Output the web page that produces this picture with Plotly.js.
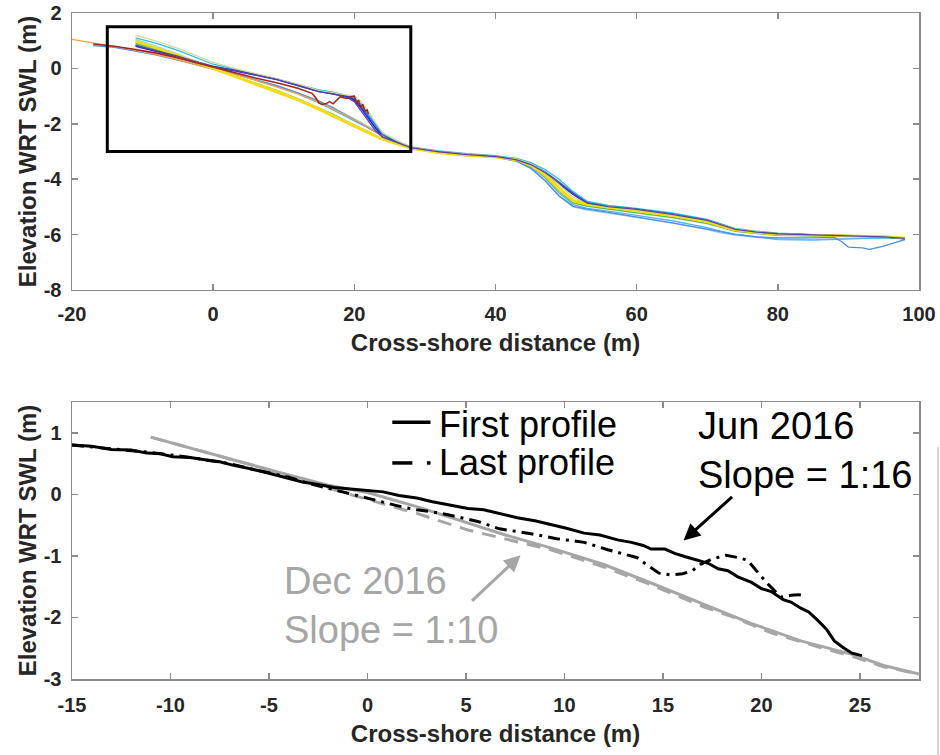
<!DOCTYPE html>
<html><head><meta charset="utf-8">
<script src="https://cdn.plot.ly/plotly-3.0.1.min.js"></script>
<style>html,body{margin:0;padding:0;background:#fff}</style>
</head><body><div id="chart" style="width:940px;height:755px"></div>
<script>
// ---------- TOP PANEL: all surveyed profiles ----------
const xTop = [-11,-8,-5,-2,0,3,6,9,12,15,17,19,20,21,22,23,24,26,28,32,36,40,43,45,47,49,51,53,56,60,65,70,72,74,77,80,85,90,95,98];
const profA = [0.80,0.62,0.42,0.18,0.05,-0.08,-0.24,-0.40,-0.62,-0.83,-0.92,-1.02,-1.15,-1.45,-1.80,-2.15,-2.45,-2.68,-2.86,-3.02,-3.12,-3.18,-3.30,-3.48,-3.78,-4.15,-4.55,-4.88,-5.00,-5.10,-5.28,-5.50,-5.68,-5.82,-5.92,-5.98,-6.02,-6.05,-6.08,-6.15];
const profB = [0.85,0.66,0.45,0.22,0.08,-0.06,-0.22,-0.38,-0.60,-0.82,-0.90,-1.00,-1.10,-1.38,-1.72,-2.08,-2.40,-2.65,-2.85,-3.00,-3.10,-3.17,-3.28,-3.45,-3.72,-4.10,-4.50,-4.85,-4.98,-5.08,-5.25,-5.48,-5.65,-5.80,-5.90,-5.97,-6.00,-6.04,-6.07,-6.14];
const profC = [1.10,0.90,0.65,0.35,0.15,-0.03,-0.20,-0.38,-0.58,-0.78,-0.86,-0.97,-1.05,-1.30,-1.65,-2.02,-2.36,-2.62,-2.83,-2.98,-3.08,-3.15,-3.25,-3.40,-3.65,-4.00,-4.45,-4.80,-4.95,-5.05,-5.22,-5.45,-5.62,-5.78,-5.88,-5.95,-6.00,-6.03,-6.06,-6.12];
const profE = [0.82,0.64,0.44,0.20,0.06,-0.07,-0.23,-0.40,-0.62,-0.84,-0.92,-1.05,-1.20,-1.55,-1.92,-2.25,-2.48,-2.68,-2.86,-3.01,-3.11,-3.18,-3.30,-3.47,-3.76,-4.12,-4.52,-4.86,-4.99,-5.09,-5.27,-5.49,-5.66,-5.81,-5.91,-5.97,-6.01,-6.05,-6.08,-6.14];
const profF = [0.95,0.72,0.48,0.20,0.02,-0.20,-0.42,-0.65,-0.92,-1.25,-1.50,-1.78,-1.90,-2.02,-2.15,-2.28,-2.42,-2.65,-2.85,-3.02,-3.12,-3.18,-3.32,-3.55,-3.95,-4.50,-4.92,-5.05,-5.15,-5.30,-5.50,-5.75,-5.88,-5.98,-6.08,-6.18,-6.20,-6.15,-6.12,-6.15];
const profH = [1.00,0.75,0.48,0.18,0.00,-0.28,-0.55,-0.82,-1.12,-1.45,-1.70,-1.95,-2.08,-2.20,-2.32,-2.43,-2.55,-2.72,-2.88,-3.05,-3.15,-3.20,-3.30,-3.48,-3.80,-4.30,-4.75,-4.90,-5.00,-5.12,-5.30,-5.52,-5.68,-5.82,-5.92,-5.98,-6.02,-6.04,-6.06,-6.12];
const profI = [0.95,0.72,0.46,0.16,-0.02,-0.30,-0.58,-0.86,-1.16,-1.50,-1.75,-2.00,-2.12,-2.24,-2.35,-2.46,-2.58,-2.74,-2.90,-3.06,-3.15,-3.21,-3.32,-3.52,-3.88,-4.40,-4.80,-4.93,-5.03,-5.15,-5.33,-5.55,-5.72,-5.85,-5.94,-6.00,-6.03,-6.05,-6.07,-6.13];
const profJ = [0.90,0.68,0.44,0.15,-0.02,-0.27,-0.52,-0.80,-1.10,-1.42,-1.66,-1.92,-2.05,-2.18,-2.30,-2.42,-2.55,-2.72,-2.88,-3.04,-3.14,-3.20,-3.32,-3.52,-3.90,-4.42,-4.85,-4.98,-5.08,-5.20,-5.38,-5.60,-5.75,-5.88,-5.96,-6.02,-6.05,-6.06,-6.08,-6.14];
const profK = [1.20,0.98,0.72,0.42,0.22,0.00,-0.18,-0.36,-0.56,-0.80,-0.88,-0.96,-1.00,-1.20,-1.55,-1.95,-2.32,-2.60,-2.84,-3.00,-3.10,-3.17,-3.28,-3.45,-3.75,-4.20,-4.65,-4.90,-5.00,-5.10,-5.28,-5.50,-5.65,-5.80,-5.90,-5.97,-6.01,-6.04,-6.06,-6.12];
const profM = [1.05,0.80,0.52,0.22,0.05,-0.18,-0.40,-0.62,-0.88,-1.18,-1.42,-1.68,-1.82,-1.96,-2.10,-2.24,-2.38,-2.62,-2.84,-3.02,-3.12,-3.20,-3.36,-3.62,-4.05,-4.62,-5.00,-5.12,-5.22,-5.38,-5.58,-5.82,-5.95,-6.02,-6.10,-6.15,-6.18,-6.14,-6.12,-6.14];
// jagged last June profile (dark red)
const xRed = [-17,-14,-11,-8,-5,-2,0,3,6,9,12,14,14.5,15,15.5,16,16.5,17,17.5,18,18.5,19,19.5,20,20.3,20.6,20.9,21.2,21.5,21.8,22];
const yRed = [0.88,0.80,0.68,0.55,0.38,0.18,0.05,-0.15,-0.35,-0.52,-0.72,-0.90,-1.05,-1.25,-1.30,-1.27,-1.20,-1.28,-1.15,-1.02,-1.06,-1.08,-1.02,-1.00,-1.25,-1.15,-1.40,-1.30,-1.55,-1.50,-1.65];
// profile with offshore trough
const xG = [-17,-14,-11,-8,-5,-2,0,3,6,9,12,15,17,19,21,23,25,28,32,36,40,43,45,47,49,51,53,56,60,65,70,74,77,80,85,88,89,90,92,93,95,97,98];
const yG = [0.82,0.76,0.62,0.48,0.30,0.10,-0.02,-0.20,-0.40,-0.62,-0.88,-1.18,-1.42,-1.70,-2.00,-2.30,-2.58,-2.85,-3.02,-3.12,-3.20,-3.35,-3.60,-4.05,-4.60,-4.98,-5.08,-5.20,-5.38,-5.58,-5.80,-6.00,-6.08,-6.12,-6.12,-6.10,-6.25,-6.45,-6.48,-6.53,-6.42,-6.25,-6.18];
// landward-extended profile (orange)
const xOr = [-20,-17,-14,-11,-8,-5,-2,0,3,6,9,12,15,17,19,21,23,25,28,32,36,40];
const yOr = [1.05,0.92,0.80,0.66,0.50,0.32,0.10,-0.02,-0.22,-0.42,-0.66,-0.92,-1.22,-1.46,-1.72,-1.98,-2.30,-2.60,-2.86,-3.02,-3.12,-3.18];

// ---------- BOTTOM PANEL: zoom of foreshore ----------
const xJunFirst = [-15,-14,-13,-12,-11.2,-10.5,-9.9,-9,-8,-7.5,-6.8,-6,-5.1,-4.5,-4,-3.3,-2.5,-1.7,-1,0,0.8,1.6,2.5,3.3,4.2,5.1,5.9,6.8,7.6,8.5,9.3,10.1,11,11.8,12.7,13.4,14,14.4,15.1,15.6,16.1,16.8,17.3,17.8,18.3,18.8,19.5,20,20.5,21.1,21.5,22,22.4,22.9,23.3,23.7,24.2,24.6,25.1];
const yJunFirst = [0.80,0.78,0.73,0.72,0.67,0.66,0.61,0.60,0.55,0.53,0.47,0.42,0.35,0.30,0.26,0.20,0.16,0.11,0.09,0.06,0.04,-0.02,-0.06,-0.12,-0.17,-0.23,-0.25,-0.32,-0.38,-0.43,-0.49,-0.55,-0.63,-0.66,-0.74,-0.78,-0.83,-0.89,-0.89,-0.96,-1.01,-1.07,-1.12,-1.21,-1.24,-1.34,-1.43,-1.53,-1.58,-1.71,-1.75,-1.85,-1.91,-2.06,-2.19,-2.38,-2.50,-2.58,-2.62];
const xJunLast = [-15,-13,-11,-9,-7,-6,-5,-4,-3,-2,-1,0,1,1.7,2.5,3.4,4.2,5.6,6.7,8.3,9.6,11.0,12.2,13.7,14.2,14.8,15.4,16.0,16.5,16.9,17.5,18.2,18.7,19.3,19.9,20.4,21.0,21.5,21.9,22.2];
const yJunLast = [0.80,0.74,0.68,0.60,0.50,0.42,0.35,0.28,0.18,0.10,0.02,-0.06,-0.14,-0.20,-0.25,-0.29,-0.34,-0.44,-0.56,-0.64,-0.72,-0.78,-0.90,-1.03,-1.15,-1.28,-1.31,-1.29,-1.24,-1.14,-1.05,-0.99,-1.02,-1.07,-1.30,-1.48,-1.67,-1.64,-1.63,-1.66];
const xDecFirst = [-11,-8,-5,-2,0,2.5,5.1,7,9.3,12,14.4,17,19.5,22,24.6,26.2,28];
const yDecFirst = [0.93,0.66,0.40,0.15,0.03,-0.20,-0.47,-0.66,-0.87,-1.14,-1.44,-1.78,-2.10,-2.38,-2.60,-2.78,-2.92];
const xDecLast = [-11,-8,-5,-2,0,2.5,5.1,5.9,7,9.3,12,14.4,17,18.6,20.5,22.9,24.6,26.2,28];
const yDecLast = [0.93,0.66,0.40,0.10,-0.08,-0.31,-0.58,-0.64,-0.72,-0.90,-1.18,-1.47,-1.82,-2.00,-2.25,-2.48,-2.63,-2.80,-2.92];

// ---------- ticks and labels ----------
const xTopTicks = [-20, 0, 20, 40, 60, 80, 100];
const yTopTicks = [-8, -6, -4, -2, 0, 2];
const xBotTicks = [-15, -10, -5, 0, 5, 10, 15, 20, 25];
const yBotTicks = [-3, -2, -1, 0, 1];
const xTopLabels = ['-20', '0', '20', '40', '60', '80', '100'];
const yTopLabels = ['-8', '-6', '-4', '-2', '0', '2'];
const xBotLabels = ['-15', '-10', '-5', '0', '5', '10', '15', '20', '25'];
const yBotLabels = ['-3', '-2', '-1', '0', '1'];
const zoomX = [-15, 28];
const zoomY = [-3, 1.5];
const legendLabels = ['First profile', 'Last profile'];
const junLabel = 'Jun 2016<br>Slope = 1:16';
const decLabel = 'Dec 2016<br>Slope = 1:10';

const FONT = 'Liberation Sans, Arial, sans-serif';
const GRAY = '#a6a6a6';

function topLine(x, y, color, w) {
  return {x: x, y: y, xaxis: 'x', yaxis: 'y', type: 'scatter', mode: 'lines',
          line: {color: color, width: w || 1.3}, showlegend: false, hoverinfo: 'skip'};
}
const traces = [
  topLine(xTop, profM, '#8fd4f5'),
  topLine(xTop, profF, '#5ab0f0'),
  topLine(xG, yG, '#4a90e0'),
  topLine(xTop, profC, '#22c0f0'),
  topLine(xTop, profB, '#2f6fe0'),
  topLine(xTop, profA, '#1a2fd0', 1.6),
  topLine(xOr, yOr, '#f5a040'),
  topLine(xTop, profK, '#d8d890'),
  topLine(xTop, profJ, '#5fbf4f', 1.5),
  topLine(xTop, profI, '#ffd21a', 1.6),
  topLine(xTop, profH, '#f0e010', 2.2),
  topLine(xTop, profE, '#5a3fb0'),
  topLine(xRed, yRed, '#a8231f', 1.6),
  {x: xDecFirst, y: yDecFirst, xaxis: 'x2', yaxis: 'y2', mode: 'lines', name: 'Dec first',
   line: {color: GRAY, width: 3}, showlegend: false},
  {x: xDecLast, y: yDecLast, xaxis: 'x2', yaxis: 'y2', mode: 'lines', name: 'Dec last',
   line: {color: GRAY, width: 3, dash: '14px,9px'}, showlegend: false},
  {x: xJunLast, y: yJunLast, xaxis: 'x2', yaxis: 'y2', mode: 'lines', name: legendLabels[1],
   line: {color: '#000', width: 3, dash: '12px,6px,3px,6px'}, showlegend: false},
  {x: xJunFirst, y: yJunFirst, xaxis: 'x2', yaxis: 'y2', mode: 'lines', name: legendLabels[0],
   line: {color: '#000', width: 3}, showlegend: false}
];

const tickFont = {family: FONT, size: 20, color: '#262626', weight: 'bold'};
const titleFont = {family: FONT, size: 24, color: '#262626', weight: 'bold'};
function axis(extra) {
  return Object.assign({
    showline: true, linecolor: '#8c8c8c', linewidth: 1.5, mirror: 'ticks',
    ticks: 'inside', ticklen: 6, tickwidth: 1.5, tickcolor: '#8c8c8c',
    showgrid: false, zeroline: false, tickfont: tickFont, automargin: false,
    tickmode: 'array'
  }, extra);
}

const layout = {
  width: 940, height: 755,
  margin: {l: 72, r: 21, t: 13, b: 76},
  paper_bgcolor: '#fff', plot_bgcolor: '#fff',
  xaxis: axis({domain: [0, 1], anchor: 'y', range: [-20, 100], tickvals: xTopTicks, ticktext: xTopLabels,
    ticklabelstandoff: 6,
    title: {text: 'Cross-shore distance (m)', font: titleFont, standoff: 9}}),
  yaxis: axis({domain: [0.5841, 1], anchor: 'x', range: [-8, 2], tickvals: yTopTicks, ticktext: yTopLabels,
    ticklabelstandoff: 5,
    title: {text: 'Elevation WRT SWL (m)', font: titleFont, standoff: 0}}),
  xaxis2: axis({domain: [0, 1], anchor: 'y2', range: zoomX, tickvals: xBotTicks, ticktext: xBotLabels,
    ticklabelstandoff: 7,
    title: {text: 'Cross-shore distance (m)', font: titleFont, standoff: 10}}),
  yaxis2: axis({domain: [0, 0.4159], anchor: 'x2', range: zoomY, tickvals: yBotTicks, ticktext: yBotLabels,
    ticklabelstandoff: 5,
    title: {text: 'Elevation WRT SWL (m)', font: titleFont, standoff: 0}}),
  shapes: [
    {type: 'rect', xref: 'x', yref: 'y', x0: zoomX[0], x1: zoomX[1], y0: zoomY[0], y1: zoomY[1],
     line: {color: '#000', width: 3}},
    {type: 'line', xref: 'x2', yref: 'y2', x0: 1.26, x1: 3.2, y0: 1.17, y1: 1.17, line: {color: '#000', width: 3.5}},
    {type: 'line', xref: 'x2', yref: 'y2', x0: 1.26, x1: 2.28, y0: 0.51, y1: 0.51, line: {color: '#000', width: 3.5}},
    {type: 'line', xref: 'x2', yref: 'y2', x0: 3.02, x1: 3.2, y0: 0.51, y1: 0.51, line: {color: '#000', width: 3.5}},
    {type: 'line', xref: 'paper', yref: 'paper', x0: 1.0224, x1: 1.0224, y0: 0.348, y1: -0.114, line: {color: '#d4d4d4', width: 2}}
  ],
  annotations: [
    {xref: 'x2', yref: 'y2', x: 3.55, y: 1.13, text: legendLabels[0], showarrow: false, xanchor: 'left', yanchor: 'middle',
     font: {family: FONT, size: 36, color: '#000'}},
    {xref: 'x2', yref: 'y2', x: 3.55, y: 0.51, text: legendLabels[1], showarrow: false, xanchor: 'left', yanchor: 'middle',
     font: {family: FONT, size: 36, color: '#000'}},
    {xref: 'x2', yref: 'y2', x: 16.66, y: 0.71, text: junLabel, showarrow: false, xanchor: 'left', yanchor: 'middle', align: 'left',
     font: {family: FONT, size: 38, color: '#000'}},
    {xref: 'x2', yref: 'y2', x: -4.33, y: -1.80, text: decLabel, showarrow: false, xanchor: 'left', yanchor: 'middle', align: 'left',
     font: {family: FONT, size: 38, color: GRAY}},
    {xref: 'x2', yref: 'y2', x: 16.05, y: -0.75, ax: 50, ay: -45, text: '', showarrow: true,
     arrowhead: 2, arrowsize: 1.1, arrowwidth: 3, arrowcolor: '#000'},
    {xref: 'x2', yref: 'y2', x: 7.77, y: -0.99, ax: -50, ay: 47, text: '', showarrow: true,
     arrowhead: 2, arrowsize: 1.1, arrowwidth: 3, arrowcolor: GRAY}
  ]
};

Plotly.newPlot('chart', traces, layout, {displayModeBar: false, staticPlot: true});
</script></body></html>
